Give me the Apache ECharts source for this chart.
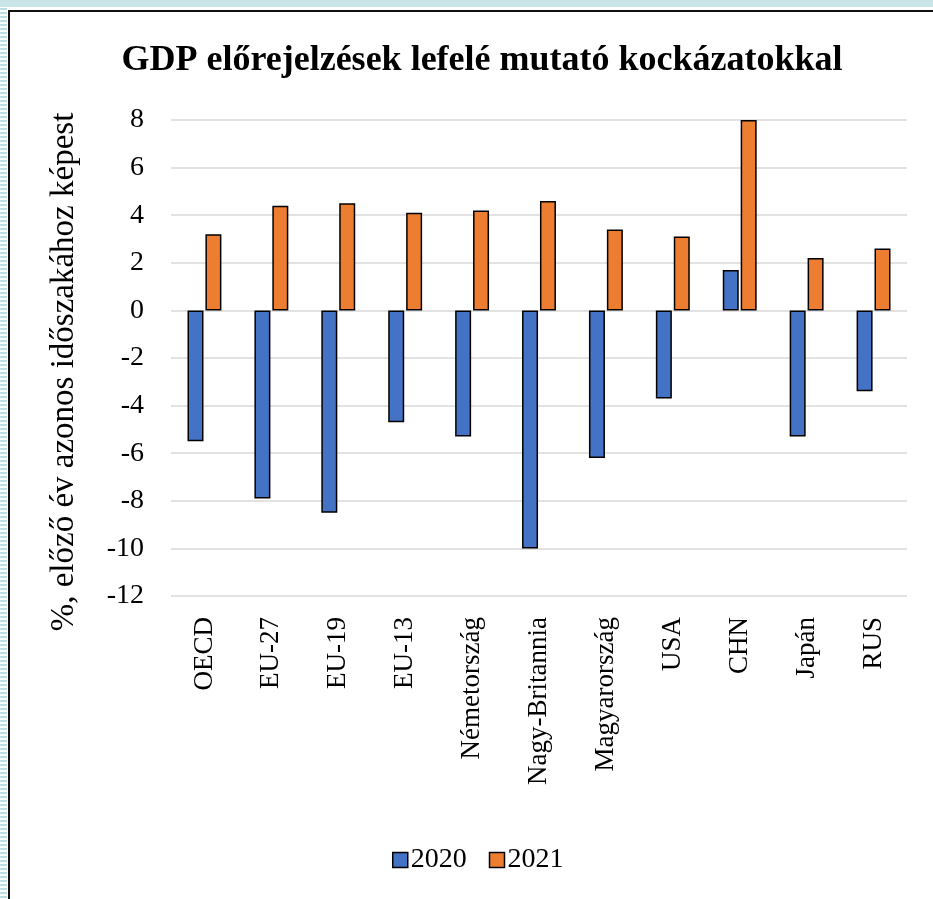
<!DOCTYPE html>
<html>
<head>
<meta charset="utf-8">
<script src="https://cdn.jsdelivr.net/npm/echarts@6/dist/echarts.min.js"></script>
<style>
  html, body { margin: 0; padding: 0; background: #ffffff; }
  #wrap { position: relative; width: 933px; height: 899px; overflow: hidden; background: #fff; }
  #stripL { position: absolute; left: 0; top: 0; width: 7px; height: 899px;
    background: repeating-linear-gradient(to bottom, #b8dfe1 0px, #b8dfe1 2px, #ffffff 2px, #ffffff 4px); }
  #stripT { position: absolute; left: 0; top: 0; width: 933px; height: 7px; background: #c9e5e7; }
  #frame { position: absolute; left: 8px; top: 10px; width: 940px; height: 900px;
    border-left: 2px solid #111; border-top: 2px solid #111; }
  #chart { position: absolute; left: 0; top: 0; width: 933px; height: 899px; }
</style>
</head>
<body>
<div id="wrap">
  <div id="stripL"></div>
  <div id="stripT"></div>
  <div id="frame"></div>
  <div id="chart"></div>
</div>
<script>
const categories = ['OECD', 'EU-27', 'EU-19', 'EU-13', 'Németország', 'Nagy-Britannia', 'Magyarország', 'USA', 'CHN', 'Japán', 'RUS'];
const values2020 = [-5.5, -7.9, -8.5, -4.7, -5.3, -10.0, -6.2, -3.7, 1.7, -5.3, -3.4];
const values2021 = [3.2, 4.4, 4.5, 4.1, 4.2, 4.6, 3.4, 3.1, 8.0, 2.2, 2.6];
const seriesNames = ['2020', '2021'];
const titleText = 'GDP előrejelzések lefelé mutató kockázatokkal';
const yAxisTitle = '%, előző év azonos időszakához képest';

const font = '"Liberation Serif", "Times New Roman", serif';
const chart = echarts.init(document.getElementById('chart'), null, { renderer: 'canvas' });
chart.setOption({
  backgroundColor: 'transparent',
  animation: false,
  title: {
    text: titleText,
    left: 477, top: 38, textAlign: 'center',
    textStyle: { fontFamily: font, fontWeight: 'bold', fontSize: 36, color: '#000' }
  },
  legend: {
    data: seriesNames,
    left: 387, top: 841,
    itemWidth: 15, itemHeight: 15, itemGap: 22,
    icon: 'rect',
    textStyle: { fontFamily: font, fontSize: 28, color: '#000', padding: [0, 0, 0, -2] },
    itemStyle: { borderColor: '#000', borderWidth: 1.5 }
  },
  grid: { left: 171, right: 26, top: 120, bottom: 303, containLabel: false },
  xAxis: {
    type: 'category',
    data: categories,
    axisLine: { show: false, onZero: false },
    axisTick: { show: false },
    axisLabel: { rotate: 90, margin: 21, fontFamily: font, fontSize: 27, color: '#000', interval: 0 }
  },
  yAxis: {
    type: 'value',
    min: -12, max: 8, interval: 2,
    name: yAxisTitle,
    nameLocation: 'middle',
    nameGap: 90,
    nameTextStyle: { fontFamily: font, fontSize: 33, color: '#000', padding: [0, 28, 0, 0] },
    axisLine: { show: false },
    axisTick: { show: false },
    axisLabel: { margin: 27, fontFamily: font, fontSize: 28, color: '#000' },
    splitLine: { lineStyle: { color: '#d9d9d9', width: 1.5 } }
  },
  series: [
    {
      name: seriesNames[0], type: 'bar', data: values2020,
      barWidth: 16, barGap: '12%',
      itemStyle: { color: '#4472c4', borderColor: '#000', borderWidth: 1.5 }
    },
    {
      name: seriesNames[1], type: 'bar', data: values2021,
      barWidth: 16, barGap: '12%',
      itemStyle: { color: '#ed7d31', borderColor: '#000', borderWidth: 1.5 }
    }
  ]
});
</script>
</body>
</html>
